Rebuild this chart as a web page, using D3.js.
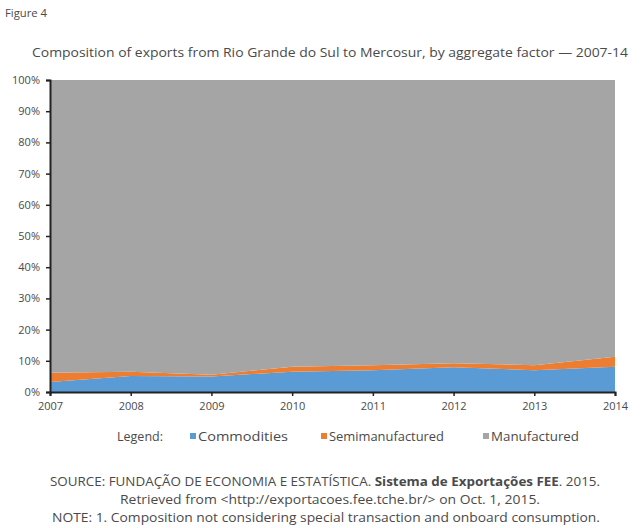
<!DOCTYPE html>
<html>
<head>
<meta charset="utf-8">
<script src="https://cdn.jsdelivr.net/npm/d3@7"></script>
<style>
  html, body { margin: 0; padding: 0; background: #ffffff; }
  svg { display: block; font-family: "Open Sans", "Liberation Sans", sans-serif; }
</style>
</head>
<body>
<svg id="chart" width="643" height="528"></svg>
<script>
// Years on the x axis
const years = [2007, 2008, 2009, 2010, 2011, 2012, 2013, 2014];
// Share of exports (%) by aggregate factor
const commodities      = [3.2, 5.1, 5.0, 6.5, 7.0, 7.9, 7.0, 8.1];
const semimanufactured = [3.0, 1.4, 0.5, 1.6, 1.6, 1.3, 1.6, 3.2];
const manufactured     = years.map((y, i) => 100 - commodities[i] - semimanufactured[i]);
const seriesNames  = ["Commodities", "Semimanufactured", "Manufactured"];
const seriesColors = ["#5b9bd5", "#ed7d31", "#a5a5a5"];
const yTicks = [0, 10, 20, 30, 40, 50, 60, 70, 80, 90, 100];

const svg = d3.select("#chart");
const textColor = "#4a4a4a";

const m = { left: 50, right: 615, top: 80, bottom: 392 };

const x = d3.scaleLinear().domain([2007, 2014]).range([m.left, m.right]);
const y = d3.scaleLinear().domain([0, 100]).range([m.bottom, m.top]);

const rows = years.map((yr, i) => ({
  year: yr,
  Commodities: commodities[i],
  Semimanufactured: semimanufactured[i],
  Manufactured: manufactured[i]
}));

const layers = d3.stack().keys(seriesNames)(rows);

const area = d3.area()
  .x(d => x(d.data.year))
  .y0(d => y(d[0]))
  .y1(d => y(d[1]));

svg.append("g").selectAll("path")
  .data(layers)
  .join("path")
  .attr("d", area)
  .attr("fill", (d, i) => seriesColors[i]);

// Axes
const yAxis = d3.axisLeft(y).tickValues(yTicks).tickFormat(d => d + "%").tickSize(4).tickPadding(6);
const gy = svg.append("g").attr("transform", `translate(${m.left},0)`).call(yAxis);
const xAxis = d3.axisBottom(x).tickValues(years).tickFormat(d3.format("d")).tickSize(4).tickPadding(6);
const gx = svg.append("g").attr("transform", `translate(0,${m.bottom})`).call(xAxis);

[gy, gx].forEach(g => {
  g.select(".domain").attr("stroke", "#222").attr("stroke-width", 2);
  g.selectAll(".tick line").attr("stroke", "#222").attr("stroke-width", 1.5);
  g.selectAll(".tick text").attr("fill", textColor).attr("font-size", 11)
    .attr("font-family", "\"Open Sans\", \"Liberation Sans\", sans-serif");
});

// Helper: text stretched to a fixed width
function fitText(parent, x0, yb, width, size, str) {
  return parent.append("text").attr("x", x0).attr("y", yb)
    .attr("font-size", size).attr("fill", textColor)
    .attr("textLength", width).attr("lengthAdjust", "spacingAndGlyphs")
    .text(str);
}

// Headings
fitText(svg, 5, 17, 42, 11, "Figure 4");
fitText(svg, 32, 57, 596, 12,
  "Composition of exports from Rio Grande do Sul to Mercosur, by aggregate factor \u2014 2007-14");

// Legend
const lg = svg.append("g");
fitText(lg, 117, 441, 46, 12, "Legend:");
const legendX = [190, 321, 483];
const legendW = [90, 115, 88];
seriesNames.forEach((name, i) => {
  lg.append("rect").attr("x", legendX[i]).attr("y", 433).attr("width", 6).attr("height", 6)
    .attr("fill", seriesColors[i]);
  fitText(lg, legendX[i] + 8, 441, legendW[i], 12, name);
});

// Source and note
const notes = svg.append("g");
const src = notes.append("text").attr("x", 50).attr("y", 486)
  .attr("font-size", 12).attr("fill", textColor)
  .attr("textLength", 550).attr("lengthAdjust", "spacingAndGlyphs");
src.append("tspan").text("SOURCE: FUNDAÇÃO DE ECONOMIA E ESTATÍSTICA. ");
src.append("tspan").attr("font-weight", "bold").text("Sistema de Exportações FEE");
src.append("tspan").text(". 2015.");
fitText(notes, 120, 504, 420, 12,
  "Retrieved from <http://exportacoes.fee.tche.br/> on Oct. 1, 2015.");
fitText(notes, 52, 522, 548, 12,
  "NOTE: 1. Composition not considering special transaction and onboard consumption.");
</script>
</body>
</html>
